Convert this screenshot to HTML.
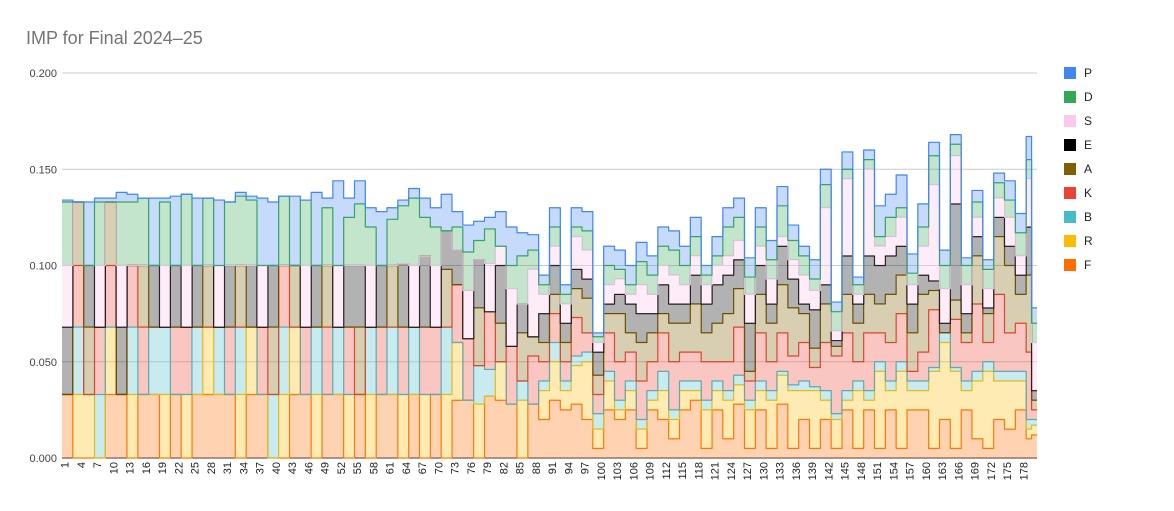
<!DOCTYPE html>
<html><head><meta charset="utf-8"><title>IMP for Final 2024–25</title>
<style>
html,body{margin:0;padding:0;background:#fff;}
svg{display:block;font-family:"Liberation Sans",Arial,sans-serif;}
</style></head>
<body>
<svg id="chart" width="1174" height="511" viewBox="0 0 1174 511" xmlns="http://www.w3.org/2000/svg">
<rect width="1174" height="511" fill="#fff"/>
<text x="26" y="44" font-size="18" fill="#757575">IMP for Final 2024–25</text>
<g id="grid"></g>
<g id="yaxis"></g>
<g id="areas"></g>
<g id="xaxis"></g>
<g id="legend"></g>
</svg>
<script>
const seriesNames = ["F","R","B","K","A","E","S","D","P"];
const seriesColors = ["#ff6d01","#fbbc04","#46bdc6","#ea4335","#7f6000","#000000","#fbc8ee","#34a853","#4285f4"];
const yTicks = [0,0.05,0.1,0.15,0.2];
const yTickLabels = ["0.000","0.050","0.100","0.150","0.200"];
const categories = [];
for (let i = 1; i <= 180; i++) categories.push(String(i));
// values in thousandths
const F = [33,33,0,0,0,0,0,0,33,33,33,33,0,0,33,33,33,33,0,0,
33,33,0,0,33,33,33,33,33,33,33,33,0,0,33,33,33,33,0,0,
0,0,33,33,33,33,0,0,33,33,33,33,0,0,33,33,0,0,33,33,
33,33,0,0,33,33,0,0,33,33,0,0,30,30,30,30,0,0,32,32,
30,30,28,28,0,0,28,28,20,20,30,30,25,25,28,28,20,20,5,5,
25,25,20,20,25,25,5,5,25,25,20,20,10,10,25,25,30,30,5,5,
25,25,10,10,28,28,5,5,25,25,5,5,28,28,5,5,20,20,5,5,
20,20,5,5,25,25,5,5,25,25,5,5,25,25,5,5,25,25,25,25,
5,5,20,20,5,5,25,25,10,10,5,5,20,20,15,15,25,25,10,12];
const R = [0,0,33,33,33,33,0,0,35,35,0,0,33,33,0,0,0,0,33,33,
0,0,33,33,0,0,35,35,0,0,0,0,33,33,35,35,0,0,0,0,
33,33,35,35,0,0,33,33,0,0,0,0,33,33,0,0,33,33,0,0,
0,0,33,33,0,0,33,33,0,0,33,33,30,30,0,0,28,28,0,0,
20,20,0,0,30,30,0,0,15,15,20,20,10,10,20,20,30,30,10,10,
15,15,5,5,10,10,10,10,5,5,15,15,10,10,10,10,5,5,20,20,
10,10,20,20,10,10,20,20,10,10,25,25,15,15,30,30,15,15,30,30,
10,10,15,15,5,5,30,30,5,5,40,40,10,10,40,40,10,10,10,10,
40,40,40,40,40,40,10,10,30,30,40,40,20,20,25,25,15,15,5,5];
const B = [0,0,35,35,0,0,33,33,0,0,0,0,35,35,0,0,35,35,35,35,
0,0,0,0,35,35,0,0,35,35,0,0,35,35,0,0,0,0,33,33,
35,35,0,0,0,0,35,35,0,0,35,35,0,0,0,0,35,35,0,0,
35,35,0,0,35,35,0,0,0,0,35,35,0,0,0,0,20,20,14,14,
0,0,0,0,10,10,0,0,5,5,10,10,5,5,5,5,5,5,8,8,
5,5,5,5,5,5,5,5,5,5,10,10,5,5,5,5,5,5,5,5,
5,5,5,5,5,5,5,5,5,5,5,5,2,2,3,3,5,5,2,2,
5,5,3,3,5,5,5,5,5,5,5,5,5,5,5,5,5,5,5,5,
2,2,5,5,2,2,5,5,5,5,5,5,5,5,5,5,5,5,5,3];
const K = [0,0,32,32,0,0,35,35,32,32,0,0,32,32,35,35,0,0,0,0,
35,35,35,35,0,0,0,0,0,0,35,35,0,0,0,0,35,35,0,0,
32,32,0,0,35,35,0,0,35,35,0,0,35,35,0,0,0,0,35,35,
0,0,35,35,0,0,35,35,35,35,0,0,30,30,32,32,0,0,30,30,
0,0,30,30,0,0,25,25,10,10,15,15,10,10,20,20,10,10,10,10,
20,20,20,20,15,15,20,20,15,15,20,20,25,25,15,15,15,15,20,20,
10,10,15,15,25,25,10,10,25,25,15,15,20,20,15,15,20,20,10,10,
25,25,30,30,30,30,10,10,30,30,15,15,20,20,25,25,5,5,15,15,
30,30,0,0,25,25,20,20,35,35,10,10,40,40,20,20,25,25,35,5];
const A = [0,0,33,33,35,35,0,0,33,33,0,0,0,0,32,32,0,0,0,0,
0,0,0,0,0,0,32,32,0,0,0,0,32,32,0,0,0,0,35,35,
0,0,32,32,0,0,0,0,32,32,0,0,0,0,35,35,0,0,0,0,
32,32,0,0,0,0,0,0,0,0,30,30,0,0,0,0,30,30,0,0,
20,20,0,0,25,25,10,10,10,10,10,10,10,10,15,15,18,18,10,10,
10,10,25,25,10,10,20,20,15,15,10,10,20,20,15,15,25,25,15,15,
20,20,25,25,20,20,5,5,20,20,20,20,25,25,25,25,15,15,10,10,
20,20,5,5,20,20,20,20,20,20,15,15,25,25,20,20,20,20,30,30,
10,10,0,0,10,10,5,5,25,25,15,15,30,30,35,35,15,15,40,5];
const E = [35,35,0,0,32,32,0,0,0,0,35,35,0,0,0,0,32,32,0,0,
32,32,0,0,32,32,0,0,0,0,32,32,0,0,32,32,0,0,32,32,
0,0,0,0,0,0,32,32,0,0,0,0,32,32,32,32,0,0,32,32,
0,0,33,33,0,0,37,37,0,0,20,20,18,18,0,0,25,25,0,0,
30,30,0,0,15,15,0,0,15,15,15,15,10,10,10,10,10,10,12,12,
5,5,10,10,15,15,15,15,10,10,15,15,10,10,10,10,15,15,15,15,
20,20,20,20,15,15,25,25,15,15,10,10,20,20,15,15,5,5,20,20,
10,10,3,3,20,20,10,10,20,20,20,20,20,20,15,15,15,15,10,10,
5,5,5,5,50,50,10,10,10,10,3,3,10,10,10,10,10,10,25,5];
const S = [32,32,0,0,0,0,32,32,0,0,32,32,0,0,0,0,0,0,32,32,
0,0,32,32,0,0,0,0,32,32,0,0,0,0,0,0,32,32,0,0,
0,0,0,0,32,32,0,0,0,0,32,32,0,0,0,0,32,32,0,0,
0,0,0,0,32,32,0,0,32,32,0,0,0,0,25,25,0,0,25,25,
10,10,30,30,0,0,35,35,10,10,10,10,10,10,17,17,15,15,5,5,
10,10,8,8,5,5,15,15,10,10,10,10,15,15,10,10,10,10,10,10,
10,10,10,10,10,10,15,15,10,10,13,13,5,5,10,10,15,15,10,10,
40,40,5,5,40,40,5,5,45,45,10,10,10,10,15,15,10,10,15,15,
50,50,18,18,25,25,15,15,10,10,10,10,10,10,15,15,10,10,25,25];
const D = [33,33,0,0,0,0,33,33,0,0,33,33,33,33,35,35,0,0,33,33,
0,0,37,37,0,0,35,35,0,0,33,33,36,36,34,34,0,0,0,0,
36,36,0,0,34,34,0,0,30,30,0,0,25,25,32,32,20,20,0,0,
24,24,30,30,35,35,20,20,20,20,0,0,12,12,20,20,10,10,18,18,
0,0,12,12,25,25,10,10,5,5,10,10,5,5,5,5,10,10,3,3,
10,10,5,5,5,5,12,12,10,10,10,10,13,13,10,10,10,10,5,5,
5,5,15,15,12,12,9,9,10,10,10,10,16,16,10,10,10,10,6,6,
12,12,10,10,5,5,5,5,5,5,5,5,10,10,5,5,6,6,10,10,
15,15,12,12,6,6,10,10,8,8,10,10,8,8,9,9,12,12,10,10];
const P = [1,1,0,0,33,33,2,2,2,2,5,5,4,4,0,0,35,35,2,2,
36,36,0,0,35,35,0,0,34,34,0,0,2,2,2,2,35,35,33,33,
0,0,36,36,0,0,38,38,5,5,44,44,10,10,12,12,10,10,28,28,
6,6,3,3,5,5,10,10,10,10,19,19,8,8,14,14,10,10,6,6,
18,18,20,20,12,12,8,8,5,5,10,10,5,5,10,10,10,10,2,2,
10,10,10,10,10,10,10,10,10,10,10,10,10,10,10,10,10,10,5,5,
10,10,10,10,10,10,10,10,10,10,10,10,10,10,8,8,5,5,10,10,
8,8,5,5,9,9,4,4,5,5,16,16,12,12,17,17,10,10,12,12,
7,7,8,8,5,5,4,4,6,6,5,5,5,5,10,10,10,10,12,8];

const NS = "http://www.w3.org/2000/svg";
const X0 = 62, X1 = 1037, Y0 = 458, Y1 = 73, YMAX = 0.2;
const n = categories.length;
const bw = (X1 - X0) / n;
function xScale(i) { return X0 + i * bw; }
function yScale(v) { return Y0 - (v / YMAX) * (Y0 - Y1); }
function mk(tag, attrs, parent) {
  const el = document.createElementNS(NS, tag);
  for (const k in attrs) el.setAttribute(k, attrs[k]);
  parent.appendChild(el);
  return el;
}
const grid = document.getElementById('grid');
const yaxis = document.getElementById('yaxis');
yTicks.forEach((t, k) => {
  const gl = mk('line', {x1: X0, x2: X1, y1: yScale(t), y2: yScale(t), stroke: t === 0 ? '#333' : '#cccccc', 'stroke-width': 1}, grid);
  
  
  const tl = mk('text', {x: 57, y: yScale(t) + 4, 'text-anchor': 'end', 'font-size': 11, fill: '#444'}, yaxis);
  tl.textContent = yTickLabels[k];
  
  
});
const seriesData = [F, R, B, K, A, E, S, D, P];
const areas = document.getElementById('areas');
let lower = new Array(n).fill(0);
seriesData.forEach((arr, s) => {
  const upper = [];
  for (let i = 0; i < n; i++) upper.push(lower[i] + (arr[i] || 0) / 1000);
  let top = '';
  for (let i = 0; i < n; i++) {
    const y = yScale(upper[i]).toFixed(2);
    top += (i === 0 ? 'M' : 'L') + xScale(i).toFixed(2) + ',' + y + 'L' + xScale(i + 1).toFixed(2) + ',' + y;
  }
  let bot = '';
  for (let i = n - 1; i >= 0; i--) {
    const y = yScale(lower[i]).toFixed(2);
    bot += 'L' + xScale(i + 1).toFixed(2) + ',' + y + 'L' + xScale(i).toFixed(2) + ',' + y;
  }
  const fill = mk('path', {d: top + bot + 'Z', fill: seriesColors[s], 'fill-opacity': s === 6 ? 0.35 : 0.3, stroke: 'none'}, areas);
  
  
  const line = mk('path', {d: top, fill: 'none', stroke: seriesColors[s], 'stroke-width': 1.2, 'stroke-linejoin': 'round'}, areas);
  
  
  lower = upper;
});
const xaxis = document.getElementById('xaxis');
for (let i = 0; i < n; i += 3) {
  const cx = xScale(i) + bw / 2;
  const t = mk('text', {x: 0, y: 0, transform: 'translate(' + (cx + 4).toFixed(2) + ',462) rotate(-90)', 'text-anchor': 'end', 'font-size': 11, fill: '#222'}, xaxis);
  t.textContent = categories[i];
  
  
}
const legend = document.getElementById('legend');
const order = [8,7,6,5,4,3,2,1,0];
order.forEach((s, k) => {
  const y = 73 + k * 24;
  const g = mk('g', {}, legend);
  
  
  mk('rect', {x: 1064, y: y - 6, width: 12, height: 12, fill: seriesColors[s]}, g);
  const t = mk('text', {x: 1084, y: y + 4, 'font-size': 12, fill: '#222'}, g);
  t.textContent = seriesNames[s];
});
</script>
</body></html>
